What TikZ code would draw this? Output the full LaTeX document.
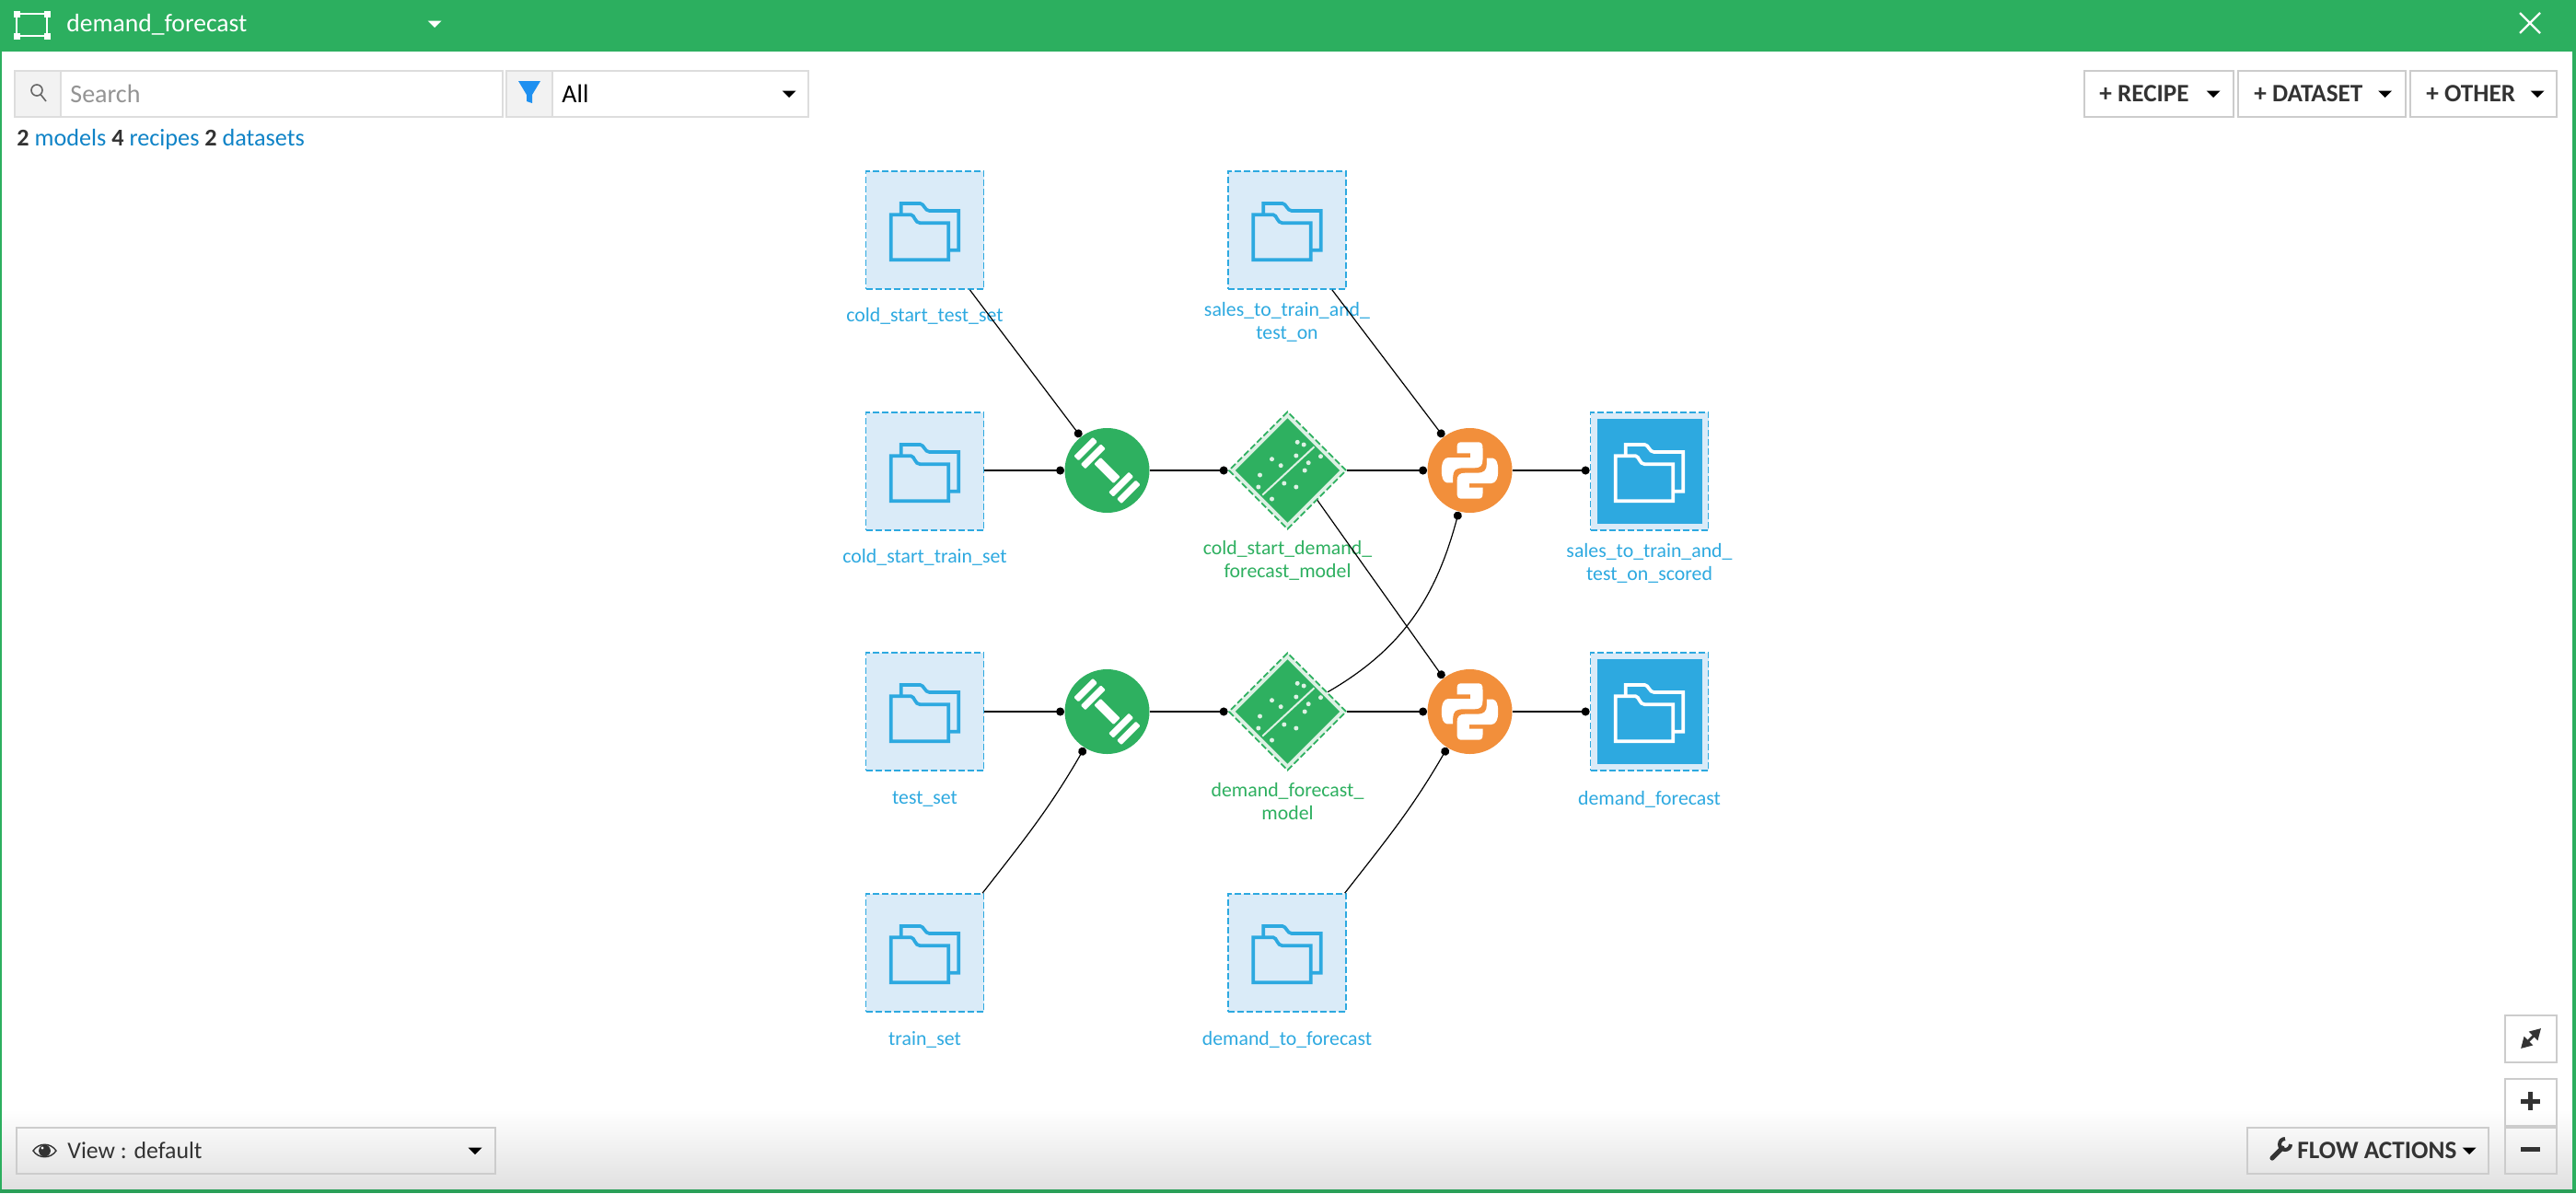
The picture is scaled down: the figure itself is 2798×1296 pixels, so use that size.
\documentclass[tikz,border=0pt]{standalone}
\usepackage{fontspec}
\setmainfont{Carlito}
\usetikzlibrary{arrows.meta,shapes.geometric}
\definecolor{hdr}{HTML}{2CAF5F}
\definecolor{hdrdark}{HTML}{2A9F58}
\definecolor{dsblue}{HTML}{2DA9E0}
\definecolor{dslight}{HTML}{DAEBF8}
\definecolor{mdgreen}{HTML}{2EB060}
\definecolor{mdlight}{HTML}{DDF1E4}
\definecolor{pyorange}{HTML}{F28F3B}
\definecolor{linkblue}{HTML}{0F83C7}
\definecolor{txt}{HTML}{333333}
\definecolor{btn}{HTML}{CCCCCC}
\definecolor{srch}{HTML}{DDDDDD}
\definecolor{cell}{HTML}{F2F2F2}
\definecolor{funnel}{HTML}{1E90F0}
\tikzset{
  dsbox/.style={rectangle,draw=dsblue,fill=dslight,dash pattern=on 3.5pt off 1.5pt,line width=.85pt,minimum size=64pt,inner sep=0pt},
  mdbox/.style={diamond,draw=mdgreen,fill=mdlight,dash pattern=on 3.5pt off 1.5pt,line width=.85pt,minimum size=64pt,inner sep=0pt,aspect=1},
  trainrec/.style={circle,fill=mdgreen,minimum size=46pt,inner sep=0pt},
  pyrec/.style={circle,fill=pyorange,minimum size=46pt,inner sep=0pt},
  dslabel/.style={text=dsblue,font=\fontsize{10.9pt}{12.5pt}\selectfont,align=center,inner sep=0pt},
  mdlabel/.style={text=mdgreen,font=\fontsize{10.9pt}{12.5pt}\selectfont,align=center,inner sep=0pt},
  flow/.style={black,line width=.6pt,-{Circle[length=4.5pt,width=4.5pt]}},
  btnbox/.style={draw=btn,line width=1pt},
  btntext/.style={text=txt,font=\fontsize{13.6pt}{14pt}\selectfont\bfseries,inner sep=0pt},
  pics/folderpic/.style={code={
    \draw[line width=1.85pt,color=#1,line join=miter]
      (-25.7,-16.7) -- (-25.7,-29) -- (-5,-29) .. controls (-1,-29) and (0,-21) .. (5,-21)
      -- (36.7,-21) -- (36.7,21.7) -- (25.7,21.7);
    \draw[line width=1.85pt,color=#1,line join=miter]
      (-36.7,-16.7) -- (-15,-16.7) .. controls (-11,-16.7) and (-11,-7.7) .. (-5,-7.7)
      -- (25.7,-7.7) -- (25.7,32.3) -- (-36.7,32.3) -- cycle;
  }},
  pics/pysnake/.style={code={
    \fill[white,rotate=#1]
      (-14,-25) .. controls (-14,-30.7) and (-12,-30.7) .. (-6.7,-30.7) -- (6.7,-30.7)
      .. controls (12,-30.7) and (14,-30.7) .. (14,-23.3) -- (14,-11.7)
      .. controls (14,-5) and (11,-2.7) .. (5,-2.7) -- (-8.3,-2.7)
      .. controls (-15,-2.7) and (-18.3,0) .. (-18.3,6.7) -- (-18.3,13.3) -- (-25,13.3)
      .. controls (-29,12.5) and (-30.7,8) .. (-30.7,0)
      .. controls (-30.7,-9) and (-28,-14) .. (-23.3,-14) -- (0.7,-14) -- (0.7,-18.7) -- (-14,-18.7) -- cycle;
  }},
  pics/pyicon/.style={code={
    \pic {pysnake=0};
    \pic {pysnake=180};
  }},
  pics/dumbbell/.style={code={
    \begin{scope}[rotate=-45]
      \fill[white,rounded corners=.5pt] (-15,-5) rectangle (15,5);
      \foreach \s in {-1,1}{
        \fill[white,rounded corners=.5pt] ({\s*18},-15.5) rectangle ({\s*25},15.5);
        \fill[white,rounded corners=.5pt] ({\s*29.5},-14.5) rectangle ({\s*36.5},14.5);
      }
    \end{scope}
  }},
  pics/modelicon/.style={code={
    \fill[mdgreen] (-56.7,0) -- (0,-56.7) -- (56.7,0) -- (0,56.7) -- cycle;
    \draw[mdlight,line width=1pt] (29,-25.7) -- (-27.3,26.7);
    \foreach \a/\b in {10.7/-30.7,17.7/-28,-17/-12.3,-7.3/-5.3,9.3/-16,36/-15.3,22.7/-8.3,18.7/0,-30/5,-31.7/18,-3.7/14,9.3/18,-17/31}
      \fill[mdlight] (\a,\b) circle (1.25pt);
  }},
  pics/tri/.style={code={\fill[#1] (-7.5,-3.5) -- (7.5,-3.5) -- (0,4) -- cycle;}},
}
\begin{document}
\begin{tikzpicture}[x=.5pt,y=-.5pt]
\useasboundingbox (0,0) rectangle (2798,1296);
\fill[white] (0,0) rectangle (2798,1296);
% chrome
\shade[top color=white,bottom color=white!88!black] (0,1205) rectangle (2798,1292);
\fill[hdr] (0,0) rectangle (2798,56);
\fill[hdr] (0,56) rectangle (2,1296);
\fill[hdr] (2794,56) rectangle (2798,1296);
\fill[hdrdark] (0,1292) rectangle (2798,1296);
% header
\draw[white,line width=1.2pt] (18,15) rectangle (51,39);
\foreach \a/\b in {18/15,51/15,18/39,51/39}
  \fill[white] (\a-3.5,\b-3.5) rectangle (\a+3.5,\b+3.5);
\node[anchor=west,text=white,font=\fontsize{13.8pt}{15pt}\selectfont,inner sep=0pt] (title) at (72,27) {demand\_forecast};
\pic at (472,26) {tri=white};
\draw[white,line width=1.1pt] (2737,14) -- (2759,36) (2759,14) -- (2737,36);
% search
\fill[cell] (16,77) rectangle (66,127);
\draw[srch,line width=1pt] (16,77) rectangle (546,127);
\draw[srch,line width=1pt] (66,77) -- (66,127);
\draw[black!60,line width=.8pt] (40,98) circle (3pt);
\draw[black!60,line width=.8pt] (44.5,103) -- (50,110);
\node[anchor=west,text=black!42,font=\fontsize{14pt}{15pt}\selectfont,inner sep=0pt] (search) at (76,102) {Search};
\fill[cell] (550,77) rectangle (600,127);
\draw[srch,line width=1pt] (550,77) rectangle (878,127);
\draw[srch,line width=1pt] (600,77) -- (600,127);
\fill[funnel] (563,88) -- (587,88) -- (578,103) -- (578,112) -- (572,110) -- (572,103) -- cycle;
\node[anchor=west,text=black,font=\fontsize{14pt}{15pt}\selectfont,inner sep=0pt] (filterall) at (610,102) {All};
\pic at (857,102) {tri=black};
\node[anchor=west,font=\fontsize{13.1pt}{15pt}\selectfont,inner sep=0pt,text=linkblue] (counts) at (18,152)
  {{\bfseries\color{txt}2} models {\bfseries\color{txt}4} recipes {\bfseries\color{txt}2} datasets};
% buttons
\draw[btnbox] (2264,77) rectangle (2426,127);
\draw[btnbox] (2431,77) rectangle (2613,127);
\draw[btnbox] (2618,77) rectangle (2777,127);
\node[btntext,anchor=west] (brecipe) at (2280,102) {+ RECIPE};
\node[btntext,anchor=west] (bdataset) at (2448,102) {+ DATASET};
\node[btntext,anchor=west] (bother) at (2635,102) {+ OTHER};
\pic at (2404,102) {tri=black};
\pic at (2590.5,102) {tri=black};
\pic at (2756,102) {tri=black};
% bottom left
\draw[btnbox] (18,1225) rectangle (538,1275);
\draw[txt,line width=.7pt] (36,1250) .. controls (42,1241) and (55,1241) .. (61,1250) .. controls (55,1259) and (42,1259) .. (36,1250) -- cycle;
\fill[txt] (48.5,1250) circle (3.2pt);
\fill[white] (46,1247) circle (.8pt);
\node[anchor=west,text=txt,font=\fontsize{12.9pt}{15pt}\selectfont,inner sep=0pt] (view) at (73,1250) {View : default};
\pic at (516,1250) {tri=black};
% bottom right
\draw[btnbox] (2441,1225) rectangle (2703,1275);
\draw[btnbox] (2721,1103) rectangle (2777,1154);
\draw[btnbox] (2721,1172) rectangle (2777,1223);
\draw[btnbox] (2721,1225) rectangle (2777,1275);
\draw[txt,line width=2.6pt,line cap=round] (2468,1258) -- (2479,1247);
\draw[txt,line width=2pt] (2488,1243) arc[start angle=0,end angle=270,radius=6];
\draw[txt,line width=1.4pt,{Triangle[length=6pt,width=6.5pt]}-{Triangle[length=6pt,width=6.5pt]}] (2738,1139) -- (2760,1117);
\draw[txt,line width=2.5pt] (2738,1196) -- (2759,1196) (2748.5,1186) -- (2748.5,1206);
\draw[txt,line width=2.5pt] (2738,1248) -- (2759,1248);
\node[btntext,anchor=west] (flowact) at (2495,1250) {FLOW ACTIONS};
\pic at (2682,1250) {tri=black};
% datasets
\node[dsbox] (ctest) at (1004.5,250) {};
\node[dsbox] (ctrain) at (1004.5,512) {};
\node[dsbox] (testset) at (1004.5,773) {};
\node[dsbox] (trainset) at (1004.5,1035) {};
\node[dsbox] (sales) at (1398,250) {};
\node[dsbox] (dforecastin) at (1398,1035) {};
\node[dsbox] (scored) at (1791.5,512) {};
\node[dsbox] (dforecast) at (1791.5,773) {};
\foreach \n in {ctest,ctrain,testset,trainset,sales,dforecastin}
  \pic at (\n) {folderpic=dsblue};
\foreach \n in {scored,dforecast}{
  \fill[dsblue] ([xshift=-28.5pt,yshift=-28.5pt]\n.center) rectangle ([xshift=28.5pt,yshift=28.5pt]\n.center);
  \pic at (\n) {folderpic=white};
}
% recipes
\node[trainrec] (train1) at (1202.5,511) {};
\node[trainrec] (train2) at (1202.5,773) {};
\node[pyrec] (py1) at (1596.5,511) {};
\node[pyrec] (py2) at (1596.5,773) {};
\foreach \n in {train1,train2} \pic at (\n) {dumbbell};
\foreach \n in {py1,py2} \pic at (\n) {pyicon};
% models
\node[mdbox] (m1) at (1398.5,511) {};
\node[mdbox] (m2) at (1398.5,773) {};
\foreach \n in {m1,m2} \pic at (\n) {modelicon};
% labels
\node[dslabel] (lctest) at (1004.5,343) {cold\_start\_test\_set};
\node[dslabel] (lctrain) at (1004.5,605) {cold\_start\_train\_set};
\node[dslabel] (ltest) at (1004.5,868) {test\_set};
\node[dslabel] (ltrain) at (1004.5,1129) {train\_set};
\node[dslabel] (lsales) at (1398,350) {sales\_to\_train\_and\_\\test\_on};
\node[dslabel] (ldfin) at (1398,1129) {demand\_to\_forecast};
\node[dslabel] (lscored) at (1791.5,612) {sales\_to\_train\_and\_\\test\_on\_scored};
\node[dslabel] (ldf) at (1791.5,868) {demand\_forecast};
\node[mdlabel] (lm1) at (1398.5,609) {cold\_start\_demand\_\\forecast\_model};
\node[mdlabel] (lm2) at (1398.5,870) {demand\_forecast\_\\model};
% connectors
\draw[flow] (ctest.-53) -- (train1.128);
\draw[flow] (ctrain.east |- train1) -- (train1);
\draw[flow] (testset) -- (train2);
\draw[flow] (trainset.46) to[out=52,in=240] (train2.-122);
\draw[flow] (train1) -- (m1);
\draw[flow] (train2) -- (m2);
\draw[flow] (sales.-53) -- (py1.128);
\draw[flow] (m1) -- (py1);
\draw[flow] (m2.26) to[out=30,in=-105] (py1.-105);
\draw[flow] (m2) -- (py2);
\draw[flow] (m1.-45) -- (py2.128);
\draw[flow] (dforecastin.46) to[out=52,in=240] (py2.-122);
\draw[flow] (py1) -- (scored.west |- py1);
\draw[flow] (py2) -- (dforecast);
\end{tikzpicture}
\end{document}
